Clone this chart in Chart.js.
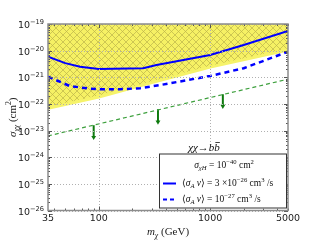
<!DOCTYPE html>
<html lang="en">
<head>
    <meta charset="UTF-8">
    <title>Dark matter cross section limits</title>
    <script src="https://cdn.jsdelivr.net/npm/chart.js"></script>
    <style>
        body { margin: 0; background: #fff; }
    </style>
</head>
<body>
    <canvas id="limitChart" width="320" height="240"></canvas>

    <script>
        // axis ticks
        const massTicks = [35, 100, 1000, 5000];
        const massGrid = [100, 1000];
        const sigmaExponents = [-19, -20, -21, -22, -23, -24, -25, -26];

        // excluded (yellow hatched) region, lower edge
        const excludedMass = [35, 100, 300, 1000, 5000];
        const excludedSigma = [6.9e-23, 1.82e-22, 6.3e-22, 2.4e-21, 1.05e-20];

        // <sigma_A v> = 3e-26 (solid blue)
        const solidMass = [35, 50, 68, 100, 250, 330, 1000, 2000, 5000];
        const solidSigma = [5.9e-21, 3.4e-21, 2.5e-21, 2.05e-21, 2.2e-21, 2.9e-21, 6.9e-21, 1.62e-20, 5.5e-20];

        // <sigma_A v> = 1e-27 (dashed blue)
        const dashedMass = [35, 55, 80, 100, 155, 235, 355, 1000, 2000, 5000];
        const dashedSigma = [1.05e-21, 4.7e-22, 3.8e-22, 3.55e-22, 3.55e-22, 3.9e-22, 5.1e-22, 1.12e-21, 2.19e-21, 9.1e-21];

        // green dashed bound and its arrows
        const greenMass = [35, 5000];
        const greenSigma = [6.3e-24, 8.5e-22];
        const arrowMass = [90, 340, 1300];
        const arrowTop = [1.6e-23, 6.3e-23, 2.3e-22];
        const arrowBottom = [5.6e-24, 2.1e-23, 8.3e-23];

        const SERIF = '"Liberation Serif", "DejaVu Serif", serif';
        const SANS = '"DejaVu Sans", sans-serif';

        function pts(xs, ys) {
            return xs.map((x, i) => ({ x: x, y: ys[i] }));
        }

        // hatch pattern for the excluded region
        const pc = document.createElement("canvas");
        pc.width = 7; pc.height = 7;
        const pctx = pc.getContext("2d");
        pctx.fillStyle = "#f6f164";
        pctx.fillRect(0, 0, 7, 7);
        pctx.strokeStyle = "#bdb54a";
        pctx.lineWidth = 0.7;
        pctx.beginPath();
        pctx.moveTo(0, 0); pctx.lineTo(7, 7);
        pctx.moveTo(0, 7); pctx.lineTo(7, 0);
        pctx.stroke();
        const hatch = pctx.createPattern(pc, "repeat");

        // draw text made of runs: {t, sub, sup, it}
        function runFont(r, size, family) {
            const s = (r.sub || r.sup) ? size * 0.7 : size;
            return (r.it ? "italic " : "") + s + "px " + family;
        }
        function runsWidth(ctx, runs, size, family) {
            let w = 0;
            runs.forEach(r => { ctx.font = runFont(r, size, family); w += ctx.measureText(r.t).width; });
            return w;
        }
        function drawRuns(ctx, runs, x, y, size, family, align) {
            const w = runsWidth(ctx, runs, size, family);
            let cx = align === "center" ? x - w / 2 : align === "right" ? x - w : x;
            ctx.textAlign = "left";
            ctx.textBaseline = "alphabetic";
            runs.forEach(r => {
                ctx.font = runFont(r, size, family);
                let dy = r.sub ? size * 0.25 : r.sup ? -size * 0.42 : 0;
                ctx.fillText(r.t, cx, y + dy);
                cx += ctx.measureText(r.t).width;
            });
            return cx;
        }

        const decoPlugin = {
            id: "deco",
            afterDatasetsDraw(chart) {
                const ctx = chart.ctx;
                const xs = chart.scales.x, ys = chart.scales.y;
                const a = chart.chartArea;
                ctx.save();

                // dotted grid
                ctx.strokeStyle = "#b0b0b0";
                ctx.lineWidth = 1;
                ctx.setLineDash([1, 2]);
                ctx.beginPath();
                sigmaExponents.forEach(e => {
                    const py = Math.round(ys.getPixelForValue(Math.pow(10, e))) + 0.5;
                    ctx.moveTo(a.left, py); ctx.lineTo(a.right, py);
                });
                massGrid.forEach(m => {
                    const px = Math.round(xs.getPixelForValue(m)) + 0.5;
                    ctx.moveTo(px, a.top); ctx.lineTo(px, a.bottom);
                });
                ctx.stroke();
                ctx.setLineDash([]);

                // ticks, inward on all sides
                ctx.strokeStyle = "#555";
                ctx.lineWidth = 1;
                ctx.beginPath();
                for (let e = -26; e <= -19; e++) {
                    const py = Math.round(ys.getPixelForValue(Math.pow(10, e))) + 0.5;
                    ctx.moveTo(a.left, py); ctx.lineTo(a.left + 4, py);
                    ctx.moveTo(a.right, py); ctx.lineTo(a.right - 4, py);
                    if (e < -19) {
                        for (let k = 2; k <= 9; k++) {
                            const pm = Math.round(ys.getPixelForValue(k * Math.pow(10, e))) + 0.5;
                            ctx.moveTo(a.left, pm); ctx.lineTo(a.left + 2, pm);
                            ctx.moveTo(a.right, pm); ctx.lineTo(a.right - 2, pm);
                        }
                    }
                }
                for (let d = 10; d <= 1000; d *= 10) {
                    for (let k = 1; k <= 9; k++) {
                        const m = k * d;
                        if (m < 35 || m > 5000) continue;
                        const px = Math.round(xs.getPixelForValue(m)) + 0.5;
                        const len = k === 1 ? 4 : 2;
                        ctx.moveTo(px, a.bottom); ctx.lineTo(px, a.bottom - len);
                        ctx.moveTo(px, a.top); ctx.lineTo(px, a.top + len);
                    }
                }
                ctx.stroke();

                // frame
                ctx.strokeStyle = "#8c8c8c";
                ctx.lineWidth = 1.5;
                ctx.strokeRect(a.left, a.top, a.right - a.left, a.bottom - a.top);

                // tick labels
                ctx.fillStyle = "#222";
                sigmaExponents.forEach(e => {
                    const py = ys.getPixelForValue(Math.pow(10, e));
                    drawRuns(ctx, [{ t: "10" }, { t: "\u2212" + Math.abs(e), sup: true }], a.left - 4, py + 4, 9.5, SANS, "right");
                });
                ctx.font = "9.5px " + SANS;
                ctx.textAlign = "center";
                ctx.textBaseline = "top";
                massTicks.forEach(m => {
                    ctx.fillText(String(m), xs.getPixelForValue(m), a.bottom + 3);
                });

                // axis titles
                drawRuns(ctx, [{ t: "m", it: true }, { t: "\u03c7", sub: true, it: true }, { t: " (GeV)" }],
                    (a.left + a.right) / 2, 235, 11, SERIF, "center");
                ctx.save();
                ctx.translate(16, (a.top + a.bottom) / 2);
                ctx.rotate(-Math.PI / 2);
                drawRuns(ctx, [{ t: "\u03c3", it: true }, { t: "\u03c7\u03c7", sub: true, it: true }, { t: " (cm" }, { t: "2", sup: true }, { t: ")" }],
                    0, 0, 11, SERIF, "center");
                ctx.restore();

                // process label
                ctx.fillStyle = "#111";
                let tx = drawRuns(ctx, [{ t: "\u03c7\u03c7", it: true }, { t: "\u2192" }, { t: "bb", it: true }], 204, 151, 11, SERIF, "center");
                ctx.font = "italic 11px " + SERIF;
                const bw = ctx.measureText("b").width;
                ctx.strokeStyle = "#111";
                ctx.lineWidth = 0.8;
                ctx.beginPath();
                ctx.moveTo(tx - bw + 1, 142.5); ctx.lineTo(tx, 142.5);
                ctx.stroke();

                // legend box
                const lx = 159, ly = 153.5, lw = 128, lh = 55;
                ctx.fillStyle = "#fff";
                ctx.fillRect(lx, ly, lw, lh);
                ctx.strokeStyle = "#333";
                ctx.lineWidth = 1;
                ctx.strokeRect(lx + 0.5, ly + 0.5, lw - 1, lh - 1);

                ctx.fillStyle = "#111";
                drawRuns(ctx, [{ t: "\u03c3", it: true }, { t: "\u03c7H", sub: true, it: true }, { t: " = 10" }, { t: "\u221240", sup: true }, { t: " cm" }, { t: "2", sup: true }],
                    224, 168, 9.5, SERIF, "center");
                drawRuns(ctx, [{ t: "\u27e8" }, { t: "\u03c3", it: true }, { t: "A", sub: true, it: true }, { t: " v", it: true }, { t: "\u27e9 = 3 \u00d710" }, { t: "\u221226", sup: true }, { t: " cm" }, { t: "3", sup: true }, { t: " /s" }],
                    182, 186, 9.5, SERIF, "left");
                drawRuns(ctx, [{ t: "\u27e8" }, { t: "\u03c3", it: true }, { t: "A", sub: true, it: true }, { t: " v", it: true }, { t: "\u27e9 = 10" }, { t: "\u221227", sup: true }, { t: " cm" }, { t: "3", sup: true }, { t: " /s" }],
                    182, 202, 9.5, SERIF, "left");

                ctx.strokeStyle = "#0000ff";
                ctx.lineWidth = 2;
                ctx.beginPath();
                ctx.moveTo(163, 183.5); ctx.lineTo(176, 183.5);
                ctx.stroke();
                ctx.setLineDash([4, 3]);
                ctx.beginPath();
                ctx.moveTo(163, 199.5); ctx.lineTo(177, 199.5);
                ctx.stroke();
                ctx.setLineDash([]);

                ctx.restore();
            }
        };

        const datasets = [
            {
                data: pts(greenMass, greenSigma),
                borderColor: "#3da03d",
                borderWidth: 1.2,
                borderDash: [4, 3],
                pointRadius: 0,
                fill: false
            },
            {
                data: pts(solidMass, solidSigma),
                borderColor: "#0000ff",
                borderWidth: 2,
                pointRadius: 0,
                fill: false
            },
            {
                data: pts(dashedMass, dashedSigma),
                borderColor: "#0000ff",
                borderWidth: 2.5,
                borderDash: [5, 4],
                pointRadius: 0,
                fill: false
            }
        ];
        arrowMass.forEach((m, i) => {
            datasets.push({
                data: [{ x: m, y: arrowTop[i] }, { x: m, y: arrowBottom[i] }],
                borderColor: "#0e7a0e",
                backgroundColor: "#0e7a0e",
                borderWidth: 2,
                pointStyle: "triangle",
                rotation: 180,
                pointRadius: [0, 2.8],
                pointBorderWidth: 0,
                fill: false
            });
        });
        // excluded region last so it is drawn underneath the lines
        datasets.push({
            data: pts(excludedMass, excludedSigma),
            borderColor: "#f6f36a",
            borderWidth: 3,
            backgroundColor: hatch,
            fill: "end",
            pointRadius: 0
        });

        const ctx = document.getElementById("limitChart").getContext("2d");
        const limitChart = new Chart(ctx, {
            type: "line",
            data: { datasets: datasets },
            options: {
                responsive: false,
                animation: false,
                devicePixelRatio: 1,
                layout: { padding: { left: 48, right: 32, top: 24, bottom: 29.5 } },
                elements: { line: { tension: 0 } },
                plugins: { legend: { display: false }, tooltip: { enabled: false } },
                scales: {
                    x: { type: "logarithmic", min: 35, max: 5000, display: false },
                    y: { type: "logarithmic", min: 1e-26, max: 1e-19, display: false }
                }
            },
            plugins: [decoPlugin]
        });
    </script>
</body>
</html>
